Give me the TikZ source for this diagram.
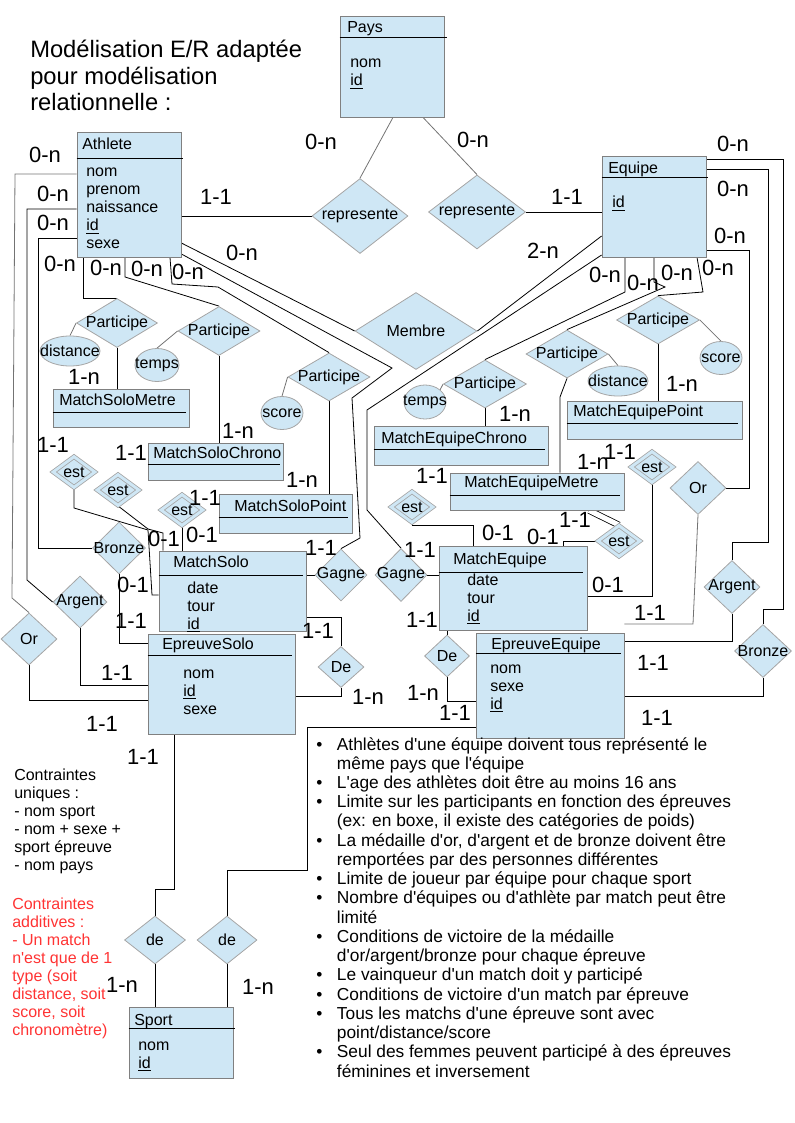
\documentclass[tikz,border=0pt]{standalone}
\usepackage{fontspec}
\setmainfont{Liberation Sans}
\usetikzlibrary{shapes.geometric,fit}
\definecolor{bleuER}{RGB}{207,231,245}
\definecolor{bordER}{RGB}{128,128,128}
\definecolor{bordLos}{RGB}{165,165,165}
\definecolor{rougeNote}{RGB}{255,51,51}
\colorlet{lienGris}{black!55}
\newcommand{\losnom}[1]{\makebox[0pt]{#1}}
\newcommand{\apo}{\textquotesingle}
\pgfdeclarelayer{fond}
\pgfsetlayers{fond,main}

\begin{document}
\begin{tikzpicture}[x=0.75pt,y=-0.75pt,
    boite/.style={draw=bordER, fill=bleuER, inner sep=0pt, line width=0.6pt},
    entete/.style={line width=0.6pt},
    titre/.style={anchor=base west, inner sep=0pt, font=\fontsize{12}{13.5}\selectfont},
    attr/.style={anchor=base west, inner sep=0pt, font=\fontsize{12}{13.5}\selectfont},
    los/.style 2 args={diamond, draw=bordLos, fill=bleuER, inner sep=0pt, line width=0.6pt,
        minimum width=#1*0.75pt, minimum height=#2*0.75pt, font=\fontsize{12}{13.5}\selectfont},
    estlos/.style={los={42}{31}, double=bleuER, double distance=2.2pt},
    ell/.style 2 args={ellipse, draw=bordLos, fill=bleuER, inner sep=0pt, line width=0.6pt,
        minimum width=#1*0.75pt, minimum height=#2*0.75pt, font=\fontsize{12}{13.5}\selectfont},
    card/.style={inner sep=0pt, font=\fontsize{16.5}{16.5}\selectfont},
    lien/.style={line width=0.6pt},
    lieng/.style={line width=0.6pt, draw=lienGris},
    dbl/.style={line width=0.6pt, double, double distance=3.8pt}]
    \useasboundingbox (0,0) rectangle (794,1123);

    \node[anchor=base west, inner sep=0pt, font=\fontsize{17.8}{19.7}\selectfont] (titre) at (30,58)
        {\begin{tabular}[t]{@{}l@{}}Modélisation E/R adaptée\\pour modélisation\\relationnelle :\end{tabular}};

    % entites
    \node[boite, fit={(340,16)(444,117)}] (pays) {};
    \draw[entete] (pays.west |- 0,37) -- (447,37);
    \node[titre] (paysT) at (347,33) {Pays};
    \node[attr] (paysA) at (350,68) {\begin{tabular}[t]{@{}l@{}}nom\\\underline{id}\end{tabular}};

    \node[boite, fit={(77,132)(181,257)}] (athlete) {};
    \draw[entete] (athlete.west |- 0,158) -- (183,158);
    \node[titre] (athleteT) at (82,150) {Athlete};
    \node[attr] (athleteA) at (86,177) {\begin{tabular}[t]{@{}l@{}}nom\\prenom\\naissance\\\underline{id}\\sexe\end{tabular}};

    \node[boite, fit={(602,156)(706,257)}] (equipe) {};
    \draw[entete] (equipe.west |- 0,177) -- (708,177);
    \node[titre] (equipeT) at (608,174) {Equipe};
    \node[attr] (equipeA) at (612,208) {\underline{id}};

    \node[boite, fit={(53,389)(189,427)}] (msm) {};
    \draw[entete] (msm.west |- 0,412) -- (186,412);
    \node[titre] (msmT) at (59,405) {MatchSoloMetre};

    \node[boite, fit={(148,443)(283,480)}] (msc) {};
    \draw[entete] (msc.west |- 0,464) -- (280,464);
    \node[titre] (mscT) at (153,458) {MatchSoloChrono};

    \node[boite, fit={(219,494)(352,533)}] (msp) {};
    \draw[entete] (msp.west |- 0,517) -- (348,517);
    \node[titre] (mspT) at (234,511) {MatchSoloPoint};

    \node[boite, fit={(159,551)(306,631)}] (msolo) {};
    \draw[entete] (msolo.west |- 0,575) -- (303,575);
    \node[titre] (msoloT) at (173,567) {MatchSolo};
    \node[attr] (msoloA) at (187,593) {\begin{tabular}[t]{@{}l@{}}date\\tour\\\underline{id}\end{tabular}};

    \node[boite, fit={(148,634)(295,734)}] (esolo) {};
    \draw[entete] (esolo.west |- 0,655) -- (292,655);
    \node[titre] (esoloT) at (162,649) {EpreuveSolo};
    \node[attr] (esoloA) at (183,678) {\begin{tabular}[t]{@{}l@{}}nom\\\underline{id}\\sexe\end{tabular}};

    \node[boite, fit={(374,426)(548,465)}] (mec) {};
    \draw[entete] (mec.west |- 0,449) -- (545,449);
    \node[titre] (mecT) at (381,443) {MatchEquipeChrono};

    \node[boite, fit={(567,401)(742,439)}] (mep) {};
    \draw[entete] (mep.west |- 0,423) -- (738,423);
    \node[titre] (mepT) at (573,416) {MatchEquipePoint};

    \node[boite, fit={(450,473)(624,510)}] (mem) {};
    \draw[entete] (mem.west |- 0,495) -- (620,495);
    \node[titre] (memT) at (464,487) {MatchEquipeMetre};

    \node[boite, fit={(439,546)(587,630)}] (mequipe) {};
    \draw[entete] (mequipe.west |- 0,572) -- (583,572);
    \node[titre] (mequipeT) at (453,564) {MatchEquipe};
    \node[attr] (mequipeA) at (467,585) {\begin{tabular}[t]{@{}l@{}}date\\tour\\\underline{id}\end{tabular}};

    \node[boite, fit={(476,633)(624,738)}] (eequipe) {};
    \draw[entete] (eequipe.west |- 0,653) -- (621,653);
    \node[titre] (eequipeT) at (491,649) {EpreuveEquipe};
    \node[attr] (eequipeA) at (490,673) {\begin{tabular}[t]{@{}l@{}}nom\\sexe\\\underline{id}\end{tabular}};

    \node[boite, fit={(129,1007)(233,1078)}] (sport) {};
    \draw[entete] (sport.west |- 0,1028) -- (235,1028);
    \node[titre] (sportT) at (134,1025) {Sport};
    \node[attr] (sportA) at (138,1050) {\begin{tabular}[t]{@{}l@{}}nom\\\underline{id}\end{tabular}};

    % associations
    \node[los={96}{75}] (rep1) at (360,216) {\losnom{represente}};
    \node[los={97}{74}] (rep2) at (477,212) {\losnom{represente}};
    \node[los={122}{77}] (membre) at (416,331) {\losnom{Membre}};
    \node[los={81}{49}] (partSM) at (117,323) {\losnom{Participe}};
    \node[los={82}{49}] (partSC) at (219,331) {\losnom{Participe}};
    \node[los={82}{48}] (partSP) at (329,377) {\losnom{Participe}};
    \node[los={83}{48}] (partEC) at (485,384) {\losnom{Participe}};
    \node[los={82}{48}] (partEM) at (567,354) {\losnom{Participe}};
    \node[los={83}{48}] (partEP) at (658,320) {\losnom{Participe}};
    \node[estlos] (estSM) at (74,472) {\losnom{est}};
    \node[estlos] (estSC) at (118,490) {\losnom{est}};
    \node[estlos] (estSP) at (182,510) {\losnom{est}};
    \node[estlos] (estEC) at (412,507) {\losnom{est}};
    \node[estlos] (estEP) at (652,467) {\losnom{est}};
    \node[estlos] (estEM) at (619,541) {\losnom{est}};
    \node[los={53}{52}] (bronzeS) at (119,548) {\losnom{Bronze}};
    \node[los={54}{52}] (argentS) at (80,602) {\losnom{Argent}};
    \node[los={56}{52}] (orS) at (29,639) {\losnom{Or}};
    \node[los={52}{52}] (gagneS) at (341,575) {\losnom{Gagne}};
    \node[los={52}{53}] (gagneE) at (401,575) {\losnom{Gagne}};
    \node[los={46}{41}] (deS) at (341,667) {\losnom{De}};
    \node[los={45}{42}] (deE) at (447,656) {\losnom{De}};
    \node[los={56}{53}] (orE) at (698,488) {\losnom{Or}};
    \node[los={56}{53}] (argentE) at (732,587) {\losnom{Argent}};
    \node[los={57}{53}] (bronzeE) at (763,651) {\losnom{Bronze}};
    \node[los={61}{48}] (de1) at (155,940) {\losnom{de}};
    \node[los={60}{48}] (de2) at (227,940) {\losnom{de}};

    \node[ell={60}{30}] (distS) at (70,351) {\losnom{distance}};
    \node[ell={44}{33}] (tempsS) at (157,365) {\losnom{temps}};
    \node[ell={42}{33}] (scoreS) at (282,413) {\losnom{score}};
    \node[ell={42}{34}] (tempsE) at (425,402) {\losnom{temps}};
    \node[ell={60}{30}] (distE) at (618,381) {\losnom{distance}};
    \node[ell={42}{33}] (scoreE) at (721,358) {\losnom{score}};

    \begin{pgfonlayer}{fond}
        \draw[lieng] (pays.south -| 393,0) -- (rep1.north);
        \draw[lieng] (pays.south -| 423,0) -- (rep2.north);
        \draw[lien] (athlete.east |- rep1.west) -- (rep1.west);
        \draw[lien] (rep2.east) -- (equipe.west |- rep2.east);
        % athlete
        \draw[lieng] (athlete.west |- 0,174) -- (15,174) -- (12,598) -- (orS.north);
        \draw[lien] (athlete.west |- 0,209) -- (27,209) -- (27,580) -- (argentS.west);
        \draw[lien] (athlete.west |- 0,238) -- (38,238) |- (bronzeS.west);
        \draw[lien] (athlete.south -| 83,0) |- (partSM.north);
        \draw[lien] (athlete.south -| 125,0) -- (125,277) -- (partSC.north);
        \draw[lien] (athlete.south -| 170,0) -- (172,284) -- (218,287) -- (partSP.north);
        \draw[lien] (athlete.east |- 0,254) -- (392,368) -- (352,398) -- (360,538) -- (gagneS.north);
        \draw[lien] (athlete.east |- 0,243) -- (membre.west);
        % equipe
        \draw[lien] (equipe.west |- 0,236) -- (membre.east);
        \draw[lien] (equipe.west |- 0,255) -- (367,410) -- (367,510) -- (gagneE.north);
        \draw[lien] (equipe.south -| 625,0) -- (625,292) -- (partEC.north);
        \draw[lien] (equipe.south -| 654,0) -- (654,282) -- (665,287) -- (partEM.north);
        \draw[lien] (equipe.south -| 697,0) -- (703,292) -- (partEP.north);
        \draw[lien] (equipe.east |- 0,159) -- (783,159) -- (783,609) -| (bronzeE.north);
        \draw[lien] (equipe.east |- 0,169) -- (768,169) -- (768,542) -| (argentE.north);
        \draw[lien] (equipe.east |- 0,250) -- (749,250) |- (orE.east);
        % attributs
        \draw[lieng] (distS.north) -- (partSM.west);
        \draw[lieng] (tempsS.north) -- (partSC.west);
        \draw[lieng] (scoreS.north) -- (partSP.west);
        \draw[lieng] (tempsE.north east) -- (partEC.west);
        \draw[lieng] (partEM.east) -- (distE.north);
        \draw[lieng] (partEP.east) -- (scoreE.north);
        % participe
        \draw[lien] (partSM.south) -- (msm.north -| partSM.south);
        \draw[lien] (partSC.south) -- (msc.north -| partSC.south);
        \draw[lien] (partSP.south) -- (msp.north -| partSP.south);
        \draw[lien] (partEC.south) -- (mec.north -| partEC.south);
        \draw[lien] (partEM.south) -- (560,397) -- (mem.north -| 560,0);
        \draw[lien] (partEP.south) -- (mep.north -| partEP.south);
        % est
        \draw[dbl] (msm.south -| estSM.center) -- (estSM.center);
        \draw[dbl] (msc.west |- 0,475) -- (estSC.center |- 0,475);
        \draw[dbl] (msp.west |- 0,513) -- (estSP.center |- 0,513);
        \draw[dbl] (mec.south -| 409,0) -- (estEC.center -| 409,0);
        \draw[dbl] (mep.south -| estEP.center) -- (estEP.center);
        \draw[dbl] (mem.south -| 589,0) -- (estEM.north);
        \draw[lien] (estSM.south) -- (74,508) -- (148,530) -- (152,595) -- (msolo.west |- 0,595);
        \draw[lien] (estSC.south) -- (148,529) -- (163,533) -- (msolo.north -| 163,0);
        \draw[lien] (estSP.south) -- (msolo.north -| estSP.south);
        \draw[lien] (estEC.south) |- (473,525) -- (mequipe.north -| 473,0);
        \draw[lien] (estEM.west) -| (mequipe.north -| 563,0);
        \draw[lien] (estEP.south) |- (mequipe.east |- 0,596);
        % medailles, gagne, de
        \draw[lien] (bronzeS.south) |- (esolo.west |- 0,643);
        \draw[lien] (argentS.south) |- (esolo.west |- 0,685);
        \draw[lien] (orS.south) |- (esolo.west |- 0,700);
        \draw[lien] (msolo.east |- gagneS.west) -- (gagneS.west);
        \draw[lien] (gagneE.east) -- (mequipe.west |- gagneE.east);
        \draw[lien] (msolo.east |- 0,617) -| (deS.north);
        \draw[lien] (deS.south) |- (esolo.east |- 0,696);
        \draw[lien] (mequipe.south -| deE.north) -- (deE.north);
        \draw[lien] (deE.south) |- (eequipe.west |- 0,701);
        \draw[lieng] (orE.south) -- (693,624) -- (eequipe.east |- 0,624);
        \draw[lien] (argentE.south) |- (eequipe.east |- 0,641);
        \draw[lien] (bronzeE.south) |- (eequipe.east |- 0,696);
        % sport
        \draw[lien] (esolo.south -| 174,0) -- (174,889) -| (de1.north);
        \draw[lien] (de1.south) -- (sport.north -| de1.south);
        \draw[lien] (eequipe.west |- 0,727) -- (307,727) -- (307,870) -| (de2.north);
        \draw[lien] (de2.south) -- (sport.north -| de2.south);
    \end{pgfonlayer}

    \foreach \lbl/\x/\y [count=\i] in {0-n/321/142, 0-n/473/140, 0-n/45/155, 0-n/53/194, 0-n/53/223,
        0-n/60/264, 0-n/106/268, 0-n/147/269, 0-n/188/272, 0-n/242/253, 0-n/733/144, 0-n/733/189,
        0-n/730/236, 0-n/605/275, 0-n/643/283, 0-n/677/273, 0-n/718/268, 1-1/216/197, 1-1/567/197,
        2-n/543/251, 1-n/84/377, 1-n/238/431, 1-n/302/480, 1-n/515/414, 1-n/593/462, 1-n/682/384,
        1-n/368/697, 1-n/423/693, 1-n/122/985, 1-n/258/987, 1-1/53/445, 1-1/131/453, 1-1/205/498,
        1-1/432/476, 1-1/575/520, 1-1/620/452, 1-1/321/548, 1-1/420/550, 1-1/131/621, 1-1/117/673,
        1-1/102/724, 1-1/318/631, 1-1/422/620, 1-1/455/713, 1-1/650/613, 1-1/653/663, 1-1/657/718,
        1-1/143/757, 0-1/164/539, 0-1/202/535, 0-1/133/585, 0-1/498/533, 0-1/543/537, 0-1/608/585}
        \node[card] (card\i) at (\x,\y) {\lbl};

    \node[anchor=base west, inner sep=0pt, font=\fontsize{12}{13.5}\selectfont] (uniques) at (14,780)
        {\begin{tabular}[t]{@{}l@{}}Contraintes\\uniques :\\- nom sport\\- nom + sexe +\\sport épreuve\\- nom pays\end{tabular}};
    \node[anchor=base west, inner sep=0pt, text=rougeNote, font=\fontsize{12}{13.5}\selectfont] (additives) at (12,909)
        {\begin{tabular}[t]{@{}l@{}}Contraintes\\additives :\\- Un match\\n\apo est que de 1\\type (soit\\distance, soit\\score, soit\\chronomètre)\end{tabular}};
    \node[anchor=base west, inner sep=0pt, font=\fontsize{13}{14.43}\selectfont] (regles) at (316,750)
        {\begin{tabular}[t]{@{}p{15.5pt}@{}l@{}}
        \textbullet & Athlètes d\apo une équipe doivent tous représenté le\\
        & même pays que l\apo équipe\\
        \textbullet & L\apo age des athlètes doit être au moins 16 ans\\
        \textbullet & Limite sur les participants en fonction des épreuves\\
        & (ex: en boxe, il existe des catégories de poids)\\
        \textbullet & La médaille d\apo or, d\apo argent et de bronze doivent être\\
        & remportées par des personnes différentes\\
        \textbullet & Limite de joueur par équipe pour chaque sport\\
        \textbullet & Nombre d\apo équipes ou d\apo athlète par match peut être\\
        & limité\\
        \textbullet & Conditions de victoire de la médaille\\
        & d\apo or/argent/bronze pour chaque épreuve\\
        \textbullet & Le vainqueur d\apo un match doit y participé\\
        \textbullet & Conditions de victoire d\apo un match par épreuve\\
        \textbullet & Tous les matchs d\apo une épreuve sont avec\\
        & point/distance/score\\
        \textbullet & Seul des femmes peuvent participé à des épreuves\\
        & féminines et inversement
        \end{tabular}};
\end{tikzpicture}
\end{document}
